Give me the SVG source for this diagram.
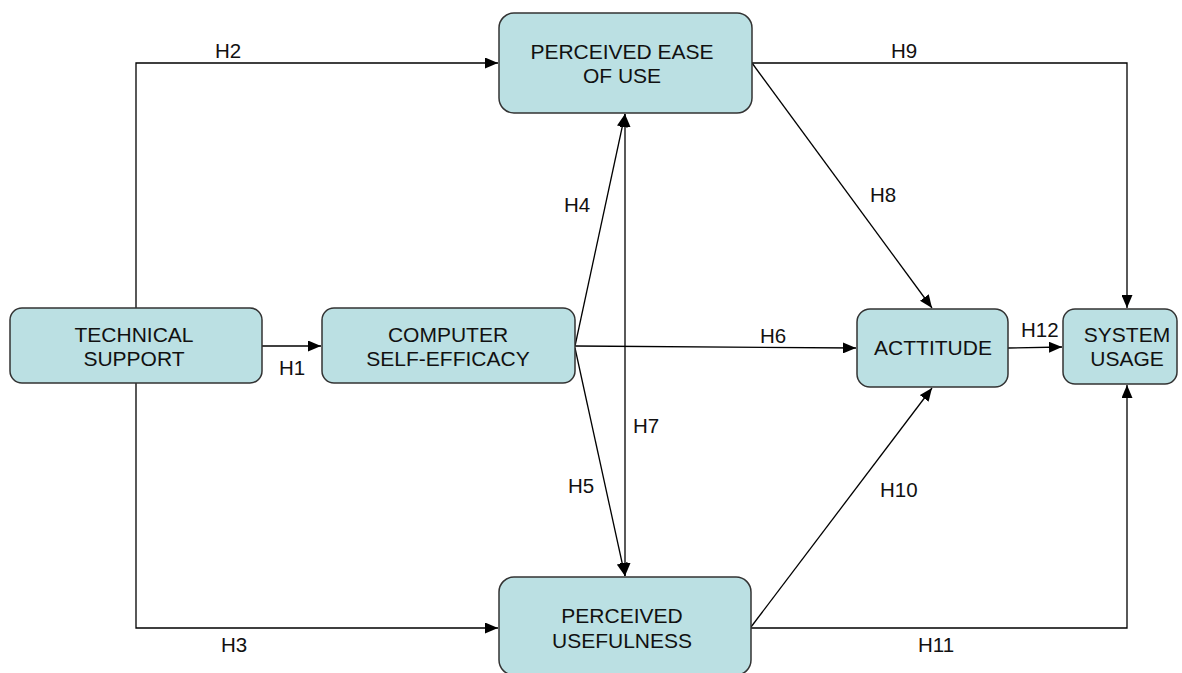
<svg xmlns="http://www.w3.org/2000/svg" width="1182" height="673" viewBox="0 0 1182 673">
<style>
.box{fill:#BBE0E3;stroke:#333333;stroke-width:1.5}
.nt{font-family:"Liberation Sans",Arial,sans-serif;font-size:21px;fill:#111;text-anchor:middle}
.lb{font-family:"Liberation Sans",Arial,sans-serif;font-size:20.5px;fill:#111}
.cn{fill:none;stroke:#000;stroke-width:1.3}
</style>
<defs>
<marker id="ah" markerUnits="userSpaceOnUse" markerWidth="14" markerHeight="11" refX="13" refY="5.5" orient="auto-start-reverse">
<path d="M0,0 L13,5.5 L0,11 z" fill="#000"/>
</marker>
</defs>
<rect width="1182" height="673" fill="#fff"/>
<g id="connectors">
<path class="cn" d="M262,346 L321,346" marker-end="url(#ah)"/>
<path class="cn" d="M136,308 L136,63 L498,63" marker-end="url(#ah)"/>
<path class="cn" d="M136,383 L136,628 L498,628" marker-end="url(#ah)"/>
<path class="cn" d="M575,346 L625,114" marker-end="url(#ah)"/>
<path class="cn" d="M575,348 L625,576" marker-end="url(#ah)"/>
<path class="cn" d="M575,346 L856,348" marker-end="url(#ah)"/>
<path class="cn" d="M625,114 L625,576" marker-start="url(#ah)" marker-end="url(#ah)"/>
<path class="cn" d="M752,63 L932,308" marker-end="url(#ah)"/>
<path class="cn" d="M752,63 L1127,63 L1127,308" marker-end="url(#ah)"/>
<path class="cn" d="M751,627 L932,388" marker-end="url(#ah)"/>
<path class="cn" d="M751,628 L1127,628 L1127,385" marker-end="url(#ah)"/>
<path class="cn" d="M1008,348 L1062,347" marker-end="url(#ah)"/>
</g>
<g id="labels">
<text class="lb" x="215" y="58">H2</text>
<text class="lb" x="891" y="58">H9</text>
<text class="lb" x="564" y="212">H4</text>
<text class="lb" x="870" y="202">H8</text>
<text class="lb" x="760" y="343">H6</text>
<text class="lb" x="1021" y="337">H12</text>
<text class="lb" x="279" y="375">H1</text>
<text class="lb" x="633" y="433">H7</text>
<text class="lb" x="568" y="493">H5</text>
<text class="lb" x="880" y="497">H10</text>
<text class="lb" x="221" y="652">H3</text>
<text class="lb" x="918" y="652">H11</text>
</g>
<g id="technical-support">
<rect class="box" x="10" y="308" width="252" height="75" rx="12"/>
<text class="nt" x="134" y="342">TECHNICAL</text>
<text class="nt" x="134" y="366">SUPPORT</text>
</g>
<g id="computer-self-efficacy">
<rect class="box" x="322" y="308" width="253" height="75" rx="12"/>
<text class="nt" x="448" y="342">COMPUTER</text>
<text class="nt" x="448" y="366">SELF-EFFICACY</text>
</g>
<g id="perceived-ease-of-use">
<rect class="box" x="499" y="13" width="253" height="100" rx="15"/>
<text class="nt" x="622" y="59">PERCEIVED EASE</text>
<text class="nt" x="622" y="83">OF USE</text>
</g>
<g id="perceived-usefulness">
<rect class="box" x="499" y="577" width="252" height="98" rx="15"/>
<text class="nt" x="622" y="623">PERCEIVED</text>
<text class="nt" x="622" y="648">USEFULNESS</text>
</g>
<g id="attitude">
<rect class="box" x="857" y="309" width="151" height="78" rx="13"/>
<text class="nt" x="933" y="355">ACTTITUDE</text>
</g>
<g id="system-usage">
<rect class="box" x="1063" y="309" width="114" height="75" rx="12"/>
<text class="nt" x="1127" y="342">SYSTEM</text>
<text class="nt" x="1127" y="366">USAGE</text>
</g>
</svg>
